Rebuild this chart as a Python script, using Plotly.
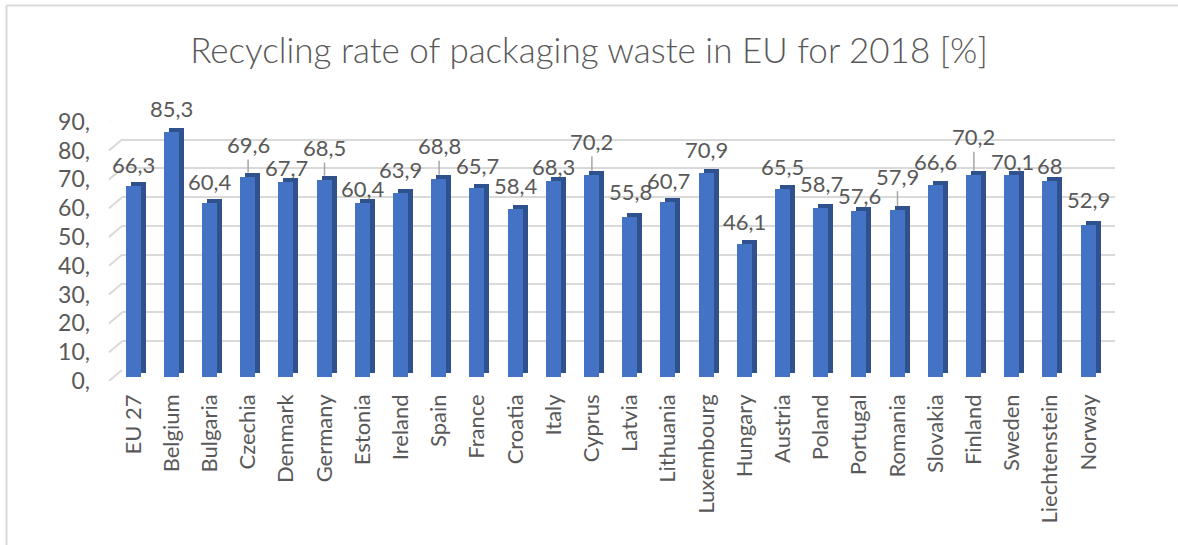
import plotly.graph_objects as go

W, H = 1178, 545

categories = ["EU 27", "Belgium", "Bulgaria", "Czechia", "Denmark", "Germany", "Estonia",
              "Ireland", "Spain", "France", "Croatia", "Italy", "Cyprus", "Latvia",
              "Lithuania", "Luxembourg", "Hungary", "Austria", "Poland", "Portugal",
              "Romania", "Slovakia", "Finland", "Sweden", "Liechtenstein", "Norway"]
values = [66.3, 85.3, 60.4, 69.6, 67.7, 68.5, 60.4, 63.9, 68.8, 65.7, 58.4, 68.3, 70.2,
          55.8, 60.7, 70.9, 46.1, 65.5, 58.7, 57.6, 57.9, 66.6, 70.2, 70.1, 68, 52.9]
labels = ["68" if v == 68 else f"{v:.1f}".replace(".", ",") for v in values]
tick_vals = [0, 10, 20, 30, 40, 50, 60, 70, 80, 90]
tick_text = ["0,", "10,", "20,", "30,", "40,", "50,", "60,", "70,", "80,", "90,"]

# label placement (pixels above the bar top) and which labels use a leader line
label_lift = [22, 23, 22, 32, 15, 32, 14.5, 23, 33, 22, 23, 14, 33.5, 25, 22, 23, 23, 22,
              24, 16, 34, 24, 38, 14, 16, 25]
leader = {"Czechia", "Germany", "Spain", "Cyprus", "Romania", "Finland"}

TXT = "#595959"
GRID = "#d9d9d9"
FRONT = "#4472C4"
SIDE = "#2F528F"
FONT = "Lato"

def fx(p):
    return p / W

def fy(p):
    return 1 - p / H

PPU = 2.88          # pixels per y unit
SPAN = PPU * 90
# planes: (left px, bottom px)
back = (122.0, 370.0)
bar = (114.4, 377.0)
side = (119.4, 373.0)
front = (109.0, 381.0)
PLOT_W = 993.2

fig = go.Figure()

fig.add_trace(go.Scatter(x=categories, y=values, mode="markers", marker=dict(opacity=0),
                         hoverinfo="skip", showlegend=False, xaxis="x", yaxis="y"))
fig.add_trace(go.Bar(x=categories, y=values, width=0.39, marker=dict(color=SIDE, line=dict(width=0)),
                     hoverinfo="skip", showlegend=False, xaxis="x2", yaxis="y2"))
fig.add_trace(go.Bar(x=categories, y=values, width=0.39, marker=dict(color=FRONT, line=dict(width=0)),
                     showlegend=False, xaxis="x3", yaxis="y3"))
fig.add_trace(go.Scatter(x=categories, y=values, mode="markers", marker=dict(opacity=0),
                         hoverinfo="skip", showlegend=False, xaxis="x4", yaxis="y4"))

def xa(left, anchor, **kw):
    d = dict(domain=[fx(left), fx(left + PLOT_W)], anchor=anchor, type="category",
             range=[-0.5, len(categories) - 0.5], showgrid=False, zeroline=False,
             showline=False, ticks="", showticklabels=False, fixedrange=True, automargin=False)
    d.update(kw)
    return d

def ya(bottom, anchor, **kw):
    d = dict(domain=[fy(bottom), fy(bottom - SPAN)], anchor=anchor, range=[0, 90],
             showgrid=False, zeroline=False, showline=False, ticks="",
             showticklabels=False, tickvals=tick_vals, fixedrange=True, automargin=False)
    d.update(kw)
    return d

layout = dict(
    template="none",
    width=W, height=H,
    margin=dict(l=0, r=0, t=0, b=0, pad=0),
    paper_bgcolor="white", plot_bgcolor="rgba(0,0,0,0)",
    font=dict(family=FONT, color=TXT),
    title=dict(text="Recycling rate of packaging waste in EU for 2018 [%]",
               x=0.5, xanchor="center", xref="paper", y=fy(51), yanchor="middle", yref="paper",
               font=dict(family=FONT, size=35, color=TXT, weight=300)),
    xaxis=xa(back[0], "y"),
    yaxis=ya(back[1], "x", showgrid=True, gridcolor=GRID, gridwidth=2),
    xaxis2=xa(side[0], "y2"),
    yaxis2=ya(side[1], "x2"),
    xaxis3=xa(bar[0], "y3", showticklabels=True, tickangle=-90,
              tickfont=dict(family=FONT, size=22, color=TXT), ticklabelstandoff=12),
    yaxis3=ya(bar[1], "x3"),
    xaxis4=xa(front[0], "y4"),
    yaxis4=ya(front[1], "x4", showticklabels=True, tickvals=tick_vals, ticktext=tick_text,
              tickfont=dict(family=FONT, size=23, color=TXT), ticklabelstandoff=18),
    bargap=0,
    showlegend=False,
)
fig.update_layout(**layout)

dy_units = (front[1] - back[1]) / PPU
for t in tick_vals:
    fig.add_shape(type="line", xref="paper", yref="y4",
                  x0=fx(front[0]), x1=fx(back[0]), y0=t, y1=t + dy_units,
                  line=dict(color=GRID, width=2))

fig.add_shape(type="line", xref="paper", yref="paper", x0=fx(6.5), x1=fx(6.5), y0=-0.01, y1=fy(5.5),
              line=dict(color=GRID, width=2))
fig.add_shape(type="line", xref="paper", yref="paper", x0=fx(6.5), x1=1.01, y0=fy(5.5), y1=fy(5.5),
              line=dict(color=GRID, width=2))

for c, v, lab, lift in zip(categories, values, labels, label_lift):
    if c in leader:
        fig.add_annotation(x=c, y=v, xref="x3", yref="y3", text=lab, showarrow=True,
                           ax=0, ay=-lift, arrowhead=0, arrowwidth=1.5, arrowcolor="#a6a6a6",
                           standoff=4, font=dict(family=FONT, size=22, color=TXT))
    else:
        fig.add_annotation(x=c, y=v, xref="x3", yref="y3", text=lab, showarrow=False,
                           yshift=lift, yanchor="middle",
                           font=dict(family=FONT, size=22, color=TXT))

fig.write_html("out.html")
